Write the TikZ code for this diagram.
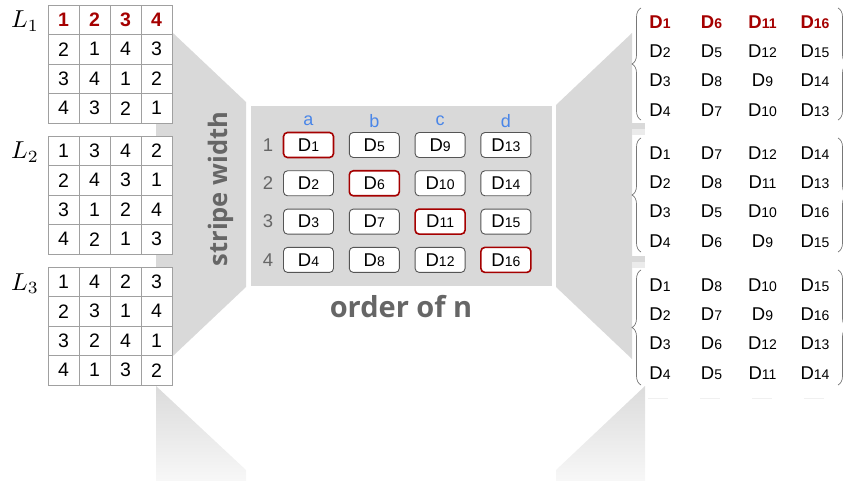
\documentclass[tikz,border=0pt]{standalone}
\usepackage{fontspec}
\setmainfont{Liberation Sans}
\newfontfamily\headfont{Open Sans}
\usetikzlibrary{decorations.pathreplacing}

\definecolor{panelgray}{gray}{0.85}
\definecolor{tabgray}{gray}{0.92}
\definecolor{deepred}{RGB}{165,0,0}
\definecolor{colblue}{RGB}{74,134,232}
\definecolor{labelgray}{RGB}{102,102,102}
\definecolor{gridgray}{RGB}{160,160,160}
\definecolor{boxgray}{RGB}{85,85,85}
\definecolor{bracegray}{RGB}{120,120,120}

% D with a smaller index on the same baseline
\newcommand\dsub[1]{D{\fontsize{14}{14}\selectfont #1}}
% name of a Latin square, set in math italic
\newcommand\sqname[1]{\scalebox{2.45}{$L_{#1}$}}

% one row of a 4x4 Latin square: prefix, row, centre y, four values
\newcommand\cellrow[7]{%
  \node[cell] (#1-#2-1) at (63.5,#3) {#4};
  \node[cell] (#1-#2-2) at (94.5,#3) {#5};
  \node[cell] (#1-#2-3) at (125.5,#3) {#6};
  \node[cell] (#1-#2-4) at (156.5,#3) {#7};}

% one row of a design group: prefix, row, centre y, four indices
\newcommand\grprow[7]{%
  \node[gtxt] (#1-#2-1) at (660,#3) {\dsub{#4}};
  \node[gtxt] (#1-#2-2) at (711.5,#3) {\dsub{#5}};
  \node[gtxt] (#1-#2-3) at (762.5,#3) {\dsub{#6}};
  \node[gtxt] (#1-#2-4) at (815,#3) {\dsub{#7}};}

\begin{document}
\begin{tikzpicture}[x=1pt,y=-1pt,
  cell/.style={draw=gridgray, line width=0.8pt, fill=white, minimum width=31pt,
    minimum height=29.5pt, inner sep=0pt, font=\fontsize{19.5}{20}\selectfont},
  redcell/.style={cell, text=deepred, font=\fontsize{19.5}{20}\selectfont\bfseries},
  sqlabel/.style={anchor=base east, inner sep=0pt},
  dbox/.style={draw=boxgray, line width=0.9pt, rounded corners=4pt, fill=white,
    minimum width=50pt, minimum height=25pt, inner sep=0pt,
    font=\fontsize{18.5}{19}\selectfont},
  hotbox/.style={dbox, draw=deepred, line width=1.6pt},
  hdr/.style={text=colblue, inner sep=0pt, font=\fontsize{18}{19}\selectfont},
  rowlbl/.style={text=labelgray, inner sep=0pt, font=\fontsize{18.5}{19}\selectfont},
  axis/.style={text=labelgray, inner sep=0pt, font=\headfont\bfseries\fontsize{25.5}{27}\selectfont},
  gtxt/.style={inner sep=0pt, font=\fontsize{18.5}{19}\selectfont},
  hot/.style={text=deepred, font=\fontsize{18.5}{19}\selectfont\bfseries},
  grpbrace/.style={draw=bracegray, line width=0.7pt, decorate,
    decoration={brace, amplitude=9pt}},
]
\useasboundingbox (0,0) rectangle (843,481);

% funnel from the Latin squares into the design panel, and its reflection
\fill[panelgray] (156,17) -- (246,102) -- (246,287) -- (156,372) -- cycle;
\shade[top color=black!14, bottom color=black!3]
  (156,386) -- (246,470) -- (246,481) -- (156,481) -- cycle;

% funnel from the design panel out to the groups, and its reflection
\fill[panelgray] (556,105) -- (632,33) -- (632,359) -- (556,287) -- cycle;
\fill[panelgray] (632,123) rectangle (645,129);
\fill[tabgray]   (632,129) rectangle (645,135);
\fill[panelgray] (632,256) rectangle (645,262);
\fill[tabgray]   (632,262) rectangle (645,268);
\shade[top color=black!14, bottom color=black!3]
  (645,386) -- (645,481) -- (556,481) -- (556,470) -- cycle;
\draw[black!6, line width=0.8pt, dash pattern=on 20pt off 32pt] (648,398) -- (840,398);

% design panel
\node[fill=panelgray, minimum width=301pt, minimum height=180pt, inner sep=0pt]
  (panel) at (401.5,196) {};
\node[axis, anchor=base, font=\headfont\bfseries\fontsize{29}{30}\selectfont]
  (ordern) at (401,317) {order of n};
\node[axis, anchor=base, rotate=90] (stripe) at (227,189) {stripe width};

% Latin squares
\cellrow{La}{1}{19.75}{}{}{}{}
\node[redcell] at (La-1-1) {1};
\node[redcell] at (La-1-2) {2};
\node[redcell] at (La-1-3) {3};
\node[redcell] at (La-1-4) {4};
\cellrow{La}{2}{49.25}{2}{1}{4}{3}
\cellrow{La}{3}{78.75}{3}{4}{1}{2}
\cellrow{La}{4}{108.25}{4}{3}{2}{1}
\node[sqlabel] (L1) at (39,28) {\sqname{1}};

\cellrow{Lb}{1}{150.75}{1}{3}{4}{2}
\cellrow{Lb}{2}{180.25}{2}{4}{3}{1}
\cellrow{Lb}{3}{209.75}{3}{1}{2}{4}
\cellrow{Lb}{4}{239.25}{4}{2}{1}{3}
\node[sqlabel] (L2) at (39,159) {\sqname{2}};

\cellrow{Lc}{1}{281.75}{1}{4}{2}{3}
\cellrow{Lc}{2}{311.25}{2}{3}{1}{4}
\cellrow{Lc}{3}{340.75}{3}{2}{4}{1}
\cellrow{Lc}{4}{370.25}{4}{1}{3}{2}
\node[sqlabel] (L3) at (39,290) {\sqname{3}};

% column and row labels of the panel
\foreach \c [count=\ci from 0] in {a,b,c,d}
  \node[hdr] (h\c) at ({308.5+65.8*\ci},121) {\c};
\foreach \r in {1,...,4}
  \node[rowlbl] (r\r) at (268,{145+38.3*(\r-1)}) {\r};

% the sixteen designs, column by column
\foreach \c in {0,...,3}
  \foreach \r in {1,...,4}{
    \pgfmathtruncatemacro\k{4*\c+\r}
    \ifnum\r=\numexpr\c+1\relax\def\sty{hotbox}\else\def\sty{dbox}\fi
    \node[\sty] (d\k) at ({308.5+65.8*\c},{145+38.3*(\r-1)}) {\dsub{\k}};
  }

% three groups of designs
\node[hot] (ga-1-1) at (660,22) {\dsub{1}};
\node[hot] (ga-1-2) at (711.5,22) {\dsub{6}};
\node[hot] (ga-1-3) at (762.5,22) {\dsub{11}};
\node[hot] (ga-1-4) at (815,22) {\dsub{16}};
\grprow{ga}{2}{51.3}{2}{5}{12}{15}
\grprow{ga}{3}{80.6}{3}{8}{9}{14}
\grprow{ga}{4}{109.9}{4}{7}{10}{13}

\grprow{gb}{1}{153}{1}{7}{12}{14}
\grprow{gb}{2}{182.3}{2}{8}{11}{13}
\grprow{gb}{3}{211.6}{3}{5}{10}{16}
\grprow{gb}{4}{240.9}{4}{6}{9}{15}

\grprow{gc}{1}{285}{1}{8}{10}{15}
\grprow{gc}{2}{314.3}{2}{7}{9}{16}
\grprow{gc}{3}{343.6}{3}{6}{12}{13}
\grprow{gc}{4}{372.9}{4}{5}{11}{14}

% braces round each group
\foreach \top/\bot [count=\g] in {8/120, 138/252, 270/385}{
  \coordinate (gl\g t) at (641,\top);
  \coordinate (gl\g b) at (641,\bot);
  \coordinate (gr\g t) at (838,\top);
  \coordinate (gr\g b) at (838,\bot);
  \draw[grpbrace] (gl\g b) -- (gl\g t);
  \draw[grpbrace] (gr\g t) -- (gr\g b);
}
\end{tikzpicture}
\end{document}
